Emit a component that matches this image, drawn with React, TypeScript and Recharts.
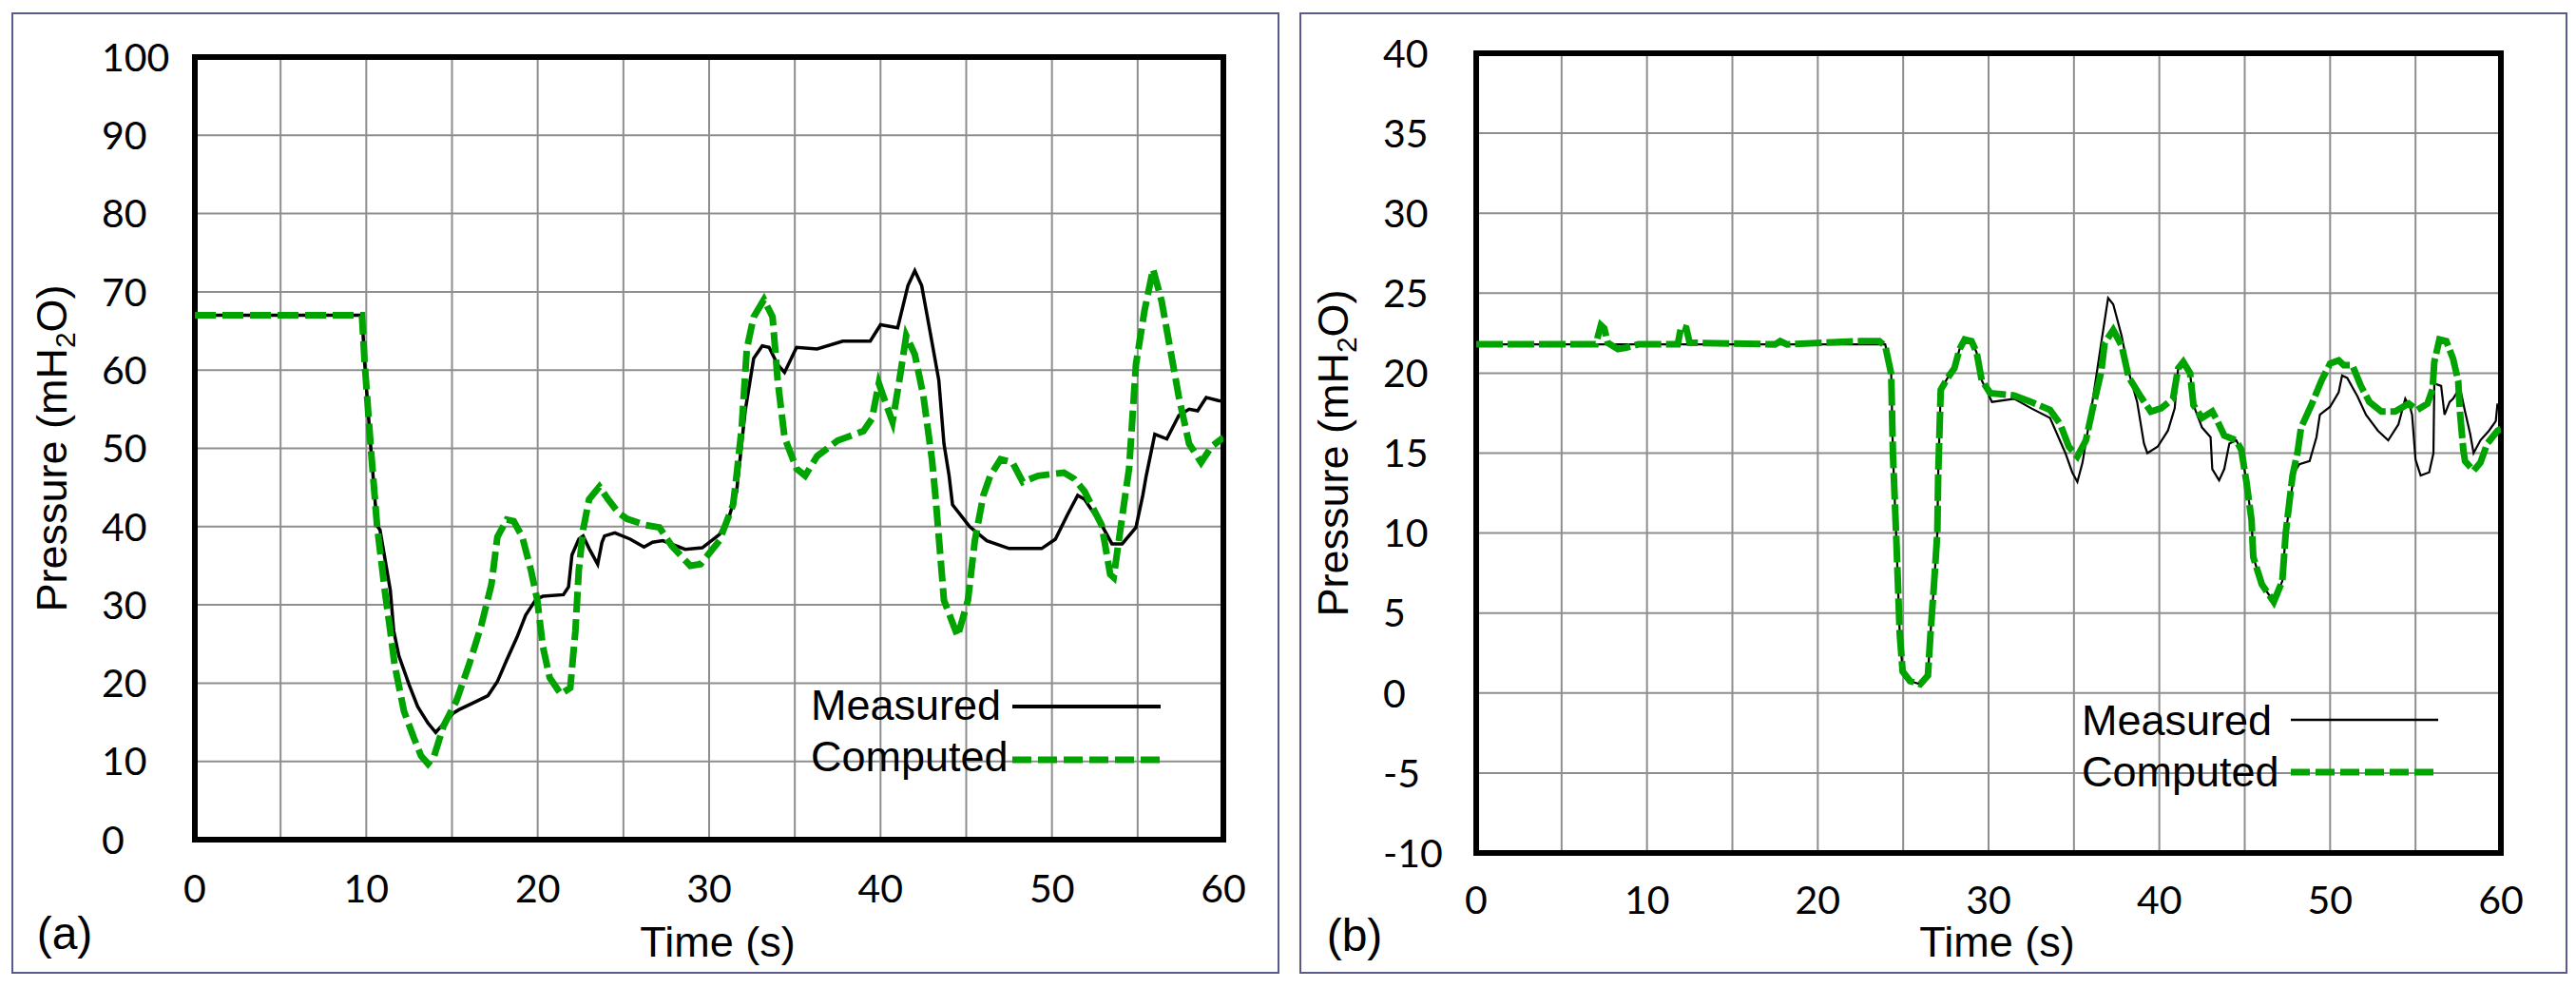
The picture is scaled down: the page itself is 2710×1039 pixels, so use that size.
import React from 'react';
import { LineChart, Line, XAxis, YAxis, CartesianGrid, ReferenceArea, Legend } from 'recharts';

// ---------- axis ticks ----------
const timeTicks = [0, 5, 10, 15, 20, 25, 30, 35, 40, 45, 50, 55, 60];
const timeLabelStep = 10;
const pressureTicksA = [0, 10, 20, 30, 40, 50, 60, 70, 80, 90, 100];
const pressureTicksB = [-10, -5, 0, 5, 10, 15, 20, 25, 30, 35, 40];
const seriesNames = ['Measured', 'Computed'];
const panelLabels = ['(a)', '(b)'];

// ---------- panel (a) data: [time s, pressure mH2O] ----------
const aMeasured: [number, number][] = [
  [0, 67], [9.75, 67], [9.9, 61.1], [10.26, 50.2], [10.63, 40.1], [10.8, 39.6], [11.4, 31.9], [11.6, 26.7],
  [11.9, 23.5], [12.5, 19.8], [13.0, 17.0], [13.6, 14.9], [14.05, 13.7], [14.5, 14.8], [15.1, 16.2], [15.4, 16.6],
  [16.36, 17.6], [17.1, 18.4], [17.65, 20.2], [18.2, 23.0], [18.8, 25.9], [19.3, 28.7], [19.9, 30.7], [20.3, 31.1],
  [21.5, 31.3], [21.8, 32.3], [22.0, 36.4], [22.4, 38.4], [22.65, 38.8], [23.0, 37.2], [23.5, 35.2], [23.75, 38.0],
  [23.9, 38.8], [24.5, 39.2], [25.4, 38.4], [26.2, 37.4], [26.7, 38.0], [27.3, 38.2], [28.6, 37.1], [29.6, 37.3],
  [30.6, 39], [31.2, 41.5], [31.6, 44.4], [32.1, 54.7], [32.6, 61.5], [33.1, 63.1], [33.5, 62.9], [34.0, 60.7],
  [34.4, 59.7], [35.1, 62.9], [36.3, 62.7], [37.8, 63.7], [39.4, 63.7], [40.0, 65.8], [41.0, 65.4], [41.6, 70.8],
  [42.0, 72.7], [42.4, 70.8], [42.9, 64.8], [43.4, 58.7], [43.7, 50.6], [44.0, 46.5], [44.2, 42.8], [45.2, 40],
  [46.2, 38.2], [47.5, 37.2], [49.4, 37.2], [50.2, 38.4], [50.9, 41.5], [51.5, 44], [51.9, 43.5], [52.9, 40.2],
  [53.5, 37.8], [54.1, 37.8], [54.9, 39.9], [55.3, 44], [55.5, 46.5], [56.0, 51.8], [56.7, 51.2], [57.4, 54.2],
  [58.0, 55], [58.5, 54.8], [59.0, 56.5], [59.7, 56.1], [60, 56],
];
const aComputed: [number, number][] = [
  [0, 67], [9.75, 67], [9.9, 61.1], [10.26, 50.2], [10.63, 40.1], [11.1, 31.5], [11.4, 26.7], [11.65, 22.4],
  [12.2, 16.4], [12.76, 13.1], [13.2, 10.7], [13.6, 9.7], [13.96, 10.7], [14.5, 14.5], [15.25, 17.7], [16.0, 22.4],
  [16.7, 27.3], [17.3, 32.6], [17.65, 38.7], [18.2, 40.9], [18.6, 40.7], [19.1, 38.7], [19.6, 34.5], [19.97, 30.7],
  [20.3, 24.7], [20.7, 20.7], [21.35, 18.6], [21.9, 19.4], [22.2, 26.7], [22.4, 34.5], [22.65, 39.6], [23.0, 43.5],
  [23.6, 45.1], [24.1, 43.5], [24.7, 41.8], [25.2, 41.0], [26.3, 40.2], [27.1, 39.9], [27.8, 37.6], [28.9, 35],
  [29.5, 35.2], [30.6, 38.2], [31.4, 42.8], [31.6, 46.5], [31.9, 52.6], [32.2, 62.7], [32.6, 66.8], [33.2, 69],
  [33.7, 66.8], [34.0, 58.7], [34.4, 51.4], [35.1, 47.4], [35.6, 46.5], [36.3, 49], [37.5, 51], [39.0, 52.2],
  [39.5, 53.8], [39.9, 58.3], [40.3, 55.8], [40.7, 53.4], [41.1, 58.7], [41.5, 64.4], [42.0, 62], [42.5, 56.7],
  [43.0, 48.6], [43.2, 44], [43.5, 36], [43.7, 30.6], [44.5, 26], [45.1, 30.6], [45.5, 38.2], [46.0, 44],
  [46.4, 46.5], [47.0, 48.6], [47.7, 48.2], [48.3, 45.7], [49.2, 46.5], [50.7, 46.9], [51.3, 46.1], [51.9, 44.5],
  [52.9, 40.2], [53.4, 33.9], [53.6, 33.5], [53.9, 38.2], [54.3, 44.4], [54.5, 47.4], [54.9, 60.7], [55.4, 67.6],
  [55.9, 72.9], [56.4, 68.8], [56.9, 62.7], [57.4, 56.6], [58.0, 50.6], [58.7, 48.2], [59.3, 50.2], [60, 51.4],
];

// ---------- panel (b) data ----------
const bMeasured: [number, number][] = [
  [0, 21.8], [23.95, 21.8], [24.3, 19.96], [24.4, 15.0], [24.6, 9.6], [24.8, 3.7], [24.97, 1.35], [25.4, 0.75],
  [26.0, 0.55], [26.45, 1.1], [26.6, 3.7], [26.8, 6.7], [27.0, 10.0], [27.05, 13.6], [27.2, 18.95], [27.6, 19.7],
  [28.0, 20.3], [28.3, 21.5], [28.6, 22.1], [29.0, 22.0], [29.3, 21.3], [29.6, 19.55], [30.2, 18.2], [31.5, 18.4],
  [32.5, 17.8], [33.6, 17.2], [34.5, 15.0], [34.9, 13.8], [35.2, 13.2], [35.5, 14.4], [36.0, 17.6], [36.6, 21.9],
  [37.0, 24.7], [37.3, 24.3], [37.8, 22.3], [38.2, 20.1], [38.7, 18.2], [39.1, 15.6], [39.3, 15.0], [39.9, 15.4],
  [40.5, 16.4], [40.9, 17.8], [41.1, 20.3], [41.4, 20.7], [41.8, 20.0], [42.0, 18.0], [42.5, 16.6], [43.0, 16.0],
  [43.1, 14.0], [43.5, 13.3], [43.8, 14.0], [44.1, 15.6], [44.5, 15.8], [44.8, 15.2], [45.1, 13.2], [45.4, 10.8],
  [45.5, 8.5], [46.0, 6.8], [46.7, 5.7], [47.2, 7.0], [47.4, 10.0], [47.9, 13.8], [48.2, 14.3], [48.8, 14.5],
  [49.2, 16.0], [49.4, 17.4], [50.0, 17.9], [50.5, 18.8], [50.7, 19.85], [51.0, 19.7], [51.6, 18.55], [52.1, 17.4],
  [52.8, 16.4], [53.4, 15.8], [54.0, 16.8], [54.4, 18.4], [54.7, 17.8], [54.8, 17.4], [55.0, 14.6], [55.3, 13.6],
  [55.8, 13.8], [56.05, 15.0], [56.1, 19.35], [56.5, 19.2], [56.7, 17.4], [57.0, 18.2], [57.2, 18.4], [57.6, 19.1],
  [57.9, 17.6], [58.2, 16.2], [58.4, 15.0], [58.8, 15.8], [59.3, 16.4], [59.7, 17.0], [59.8, 18.1],
];
const bComputed: [number, number][] = [
  [0, 21.8], [7.0, 21.8], [7.3, 23.0], [7.5, 22.8], [7.7, 21.9], [8.3, 21.5], [8.8, 21.6], [9.5, 21.8],
  [11.8, 21.8], [12.0, 22.9], [12.3, 22.8], [12.5, 21.9], [17.5, 21.8], [17.8, 22.0], [18.2, 21.8], [22.5, 22.0],
  [23.6, 22.0], [23.95, 21.7], [24.3, 19.96], [24.4, 15.0], [24.6, 9.6], [24.8, 3.7], [24.97, 1.35], [25.4, 0.75],
  [26.0, 0.55], [26.45, 1.1], [26.6, 3.7], [26.8, 6.7], [27.0, 10.0], [27.05, 13.6], [27.2, 18.95], [27.6, 19.7],
  [28.0, 20.3], [28.3, 21.5], [28.6, 22.1], [29.0, 22.0], [29.3, 21.3], [29.6, 19.55], [30.1, 18.75], [31.5, 18.6],
  [32.5, 18.2], [33.6, 17.7], [34.2, 16.8], [34.7, 15.4], [35.2, 14.8], [35.7, 15.8], [36.1, 17.8], [36.6, 20.1],
  [36.8, 21.9], [37.3, 22.7], [37.8, 21.7], [38.2, 19.75], [38.9, 18.55], [39.5, 17.6], [40.1, 17.8], [40.8, 18.4],
  [41.1, 20.3], [41.4, 20.7], [41.8, 20.0], [42.0, 18.0], [42.5, 17.2], [43.1, 17.6], [43.4, 17.0], [43.8, 16.1],
  [44.5, 15.8], [44.8, 15.2], [45.1, 13.2], [45.4, 10.8], [45.5, 8.5], [46.0, 6.8], [46.7, 5.7], [47.2, 7.0],
  [47.4, 10.0], [47.8, 13.6], [48.1, 15.1], [48.3, 16.6], [48.9, 18.0], [49.5, 19.55], [50.0, 20.6], [50.5, 20.8],
  [50.8, 20.5], [51.3, 20.5], [51.8, 19.2], [52.3, 18.2], [53.0, 17.6], [53.8, 17.6], [54.6, 18.1], [55.1, 17.7],
  [55.7, 18.1], [56.0, 19.0], [56.1, 20.7], [56.4, 22.1], [56.8, 22.0], [57.2, 20.9], [57.5, 19.5], [57.6, 17.6],
  [57.8, 15.2], [57.9, 14.5], [58.4, 13.9], [58.8, 14.4], [59.2, 15.6], [59.8, 16.4], [60, 16.5],
];

const toRows = (pairs: [number, number][]) => pairs.map(([t, p]) => ({ t, p }));

const GREEN = '#00a300';
const SANS = '"Liberation Sans", Arial, sans-serif';
const NUM = 'Lato, "Open Sans", sans-serif';

type PanelCfg = {
  left: number;
  width: number;
  margin: { top: number; right: number; bottom: number; left: number };
  yDomain: [number, number];
  yTicks: number[];
  measured: [number, number][];
  computed: [number, number][];
  measuredWidth: number;
  dash: string;
  legendDash: string;
  xTickOffset: number;
  xTitleOffset: number;
  legendLeft: number;
  legendTop: number;
  legendRows: { base: number; line: number }[];
  legendLineX: [number, number];
  legendMeasuredWidth: number;
};

const XTick = (props: any) => {
  const { x, y, payload, offsetY } = props;
  if (payload.value % timeLabelStep !== 0) return <g />;
  return (
    <text x={x} y={y + offsetY} textAnchor="middle" fontFamily={NUM} fontSize={41} fill="#000">
      {payload.value}
    </text>
  );
};

const YTick = (props: any) => {
  const { x, y, payload } = props;
  return (
    <text x={x - 98} y={y} dy="0.36em" textAnchor="start" fontFamily={NUM} fontSize={41} fill="#000">
      {payload.value}
    </text>
  );
};

const PressureTitle = (props: any) => {
  const vb = props.viewBox || {};
  const bx = vb.x + vb.width - 135;
  const cy = vb.y + vb.height / 2;
  return (
    <text
      transform={`rotate(-90 ${bx} ${cy})`}
      x={bx}
      y={cy}
      textAnchor="middle"
      fontFamily={SANS}
      fontSize={45}
      fill="#000"
    >
      Pressure (mH
      <tspan fontSize={30} dy={9}>2</tspan>
      <tspan dy={-9}>O)</tspan>
    </text>
  );
};

const TimeTitle = (props: any) => {
  const vb = props.viewBox || {};
  return (
    <text
      x={vb.x + vb.width / 2 + 9}
      y={vb.y + props.offsetY}
      textAnchor="middle"
      fontFamily={SANS}
      fontSize={45}
      fill="#000"
    >
      Time (s)
    </text>
  );
};

const LegendBox = (props: any) => {
  const { payload, cfg } = props as { payload: any[]; cfg: PanelCfg };
  const items = (payload || []).filter((p: any) => seriesNames.includes(p.value));
  return (
    <svg width={420} height={150} style={{ overflow: 'visible' }}>
      {items.map((it: any) => {
        const idx = seriesNames.indexOf(it.value);
        const row = cfg.legendRows[idx];
        const isComputed = idx === 1;
        return (
          <g key={it.value}>
            <text x={0} y={row.base} fontFamily={SANS} fontSize={45} fill="#000">
              {it.value}
            </text>
            <line
              x1={cfg.legendLineX[0]}
              x2={cfg.legendLineX[1]}
              y1={row.line}
              y2={row.line}
              stroke={isComputed ? GREEN : '#000'}
              strokeWidth={isComputed ? 7 : cfg.legendMeasuredWidth}
              strokeDasharray={isComputed ? cfg.legendDash : undefined}
            />
          </g>
        );
      })}
    </svg>
  );
};

const Panel = ({ cfg }: { cfg: PanelCfg }) => {
  return (
    <div style={{ position: 'absolute', left: cfg.left, top: 0 }}>
      <LineChart width={cfg.width} height={1039} margin={cfg.margin}>
        <CartesianGrid stroke="#8e8e8e" strokeWidth={2} />
        <XAxis
          dataKey="t"
          type="number"
          domain={[0, 60]}
          ticks={timeTicks}
          interval={0}
          tickLine={false}
          axisLine={false}
          tickSize={0}
          tickMargin={0}
          height={60}
          tick={<XTick offsetY={cfg.xTickOffset} />}
          label={<TimeTitle offsetY={cfg.xTitleOffset} />}
          allowDataOverflow
        />
        <YAxis
          type="number"
          domain={cfg.yDomain}
          ticks={cfg.yTicks}
          interval={0}
          tickLine={false}
          axisLine={false}
          tickSize={0}
          tickMargin={0}
          width={100}
          tick={<YTick />}
          label={<PressureTitle />}
          allowDataOverflow
        />
        <Line
          data={toRows(cfg.measured)}
          dataKey="p"
          name={seriesNames[0]}
          type="linear"
          stroke="#000"
          strokeWidth={cfg.measuredWidth}
          dot={false}
          activeDot={false}
          isAnimationActive={false}
        />
        <Line
          data={toRows(cfg.computed)}
          dataKey="p"
          name={seriesNames[1]}
          type="linear"
          stroke={GREEN}
          strokeWidth={7}
          strokeDasharray={cfg.dash}
          dot={false}
          activeDot={false}
          isAnimationActive={false}
        />
        <ReferenceArea
          x1={0}
          x2={60}
          y1={cfg.yDomain[0]}
          y2={cfg.yDomain[1]}
          fill="none"
          fillOpacity={0}
          stroke="#000"
          strokeWidth={6}
          ifOverflow="visible"
        />
        <Legend
          layout="horizontal"
          verticalAlign="middle"
          align="center"
          content={(p: any) => <LegendBox {...p} cfg={cfg} />}
          wrapperStyle={{ position: 'absolute', left: cfg.legendLeft, top: cfg.legendTop, width: 420, height: 150, bottom: 'auto', right: 'auto' }}
        />
      </LineChart>
    </div>
  );
};

const panelA: PanelCfg = {
  left: 0,
  width: 1360,
  margin: { top: 60, right: 73, bottom: 96, left: 105 },
  yDomain: [0, 100],
  yTicks: pressureTicksA,
  measured: aMeasured,
  computed: aComputed,
  measuredWidth: 3.5,
  dash: '22 7',
  legendDash: '20 7',
  xTickOffset: 66,
  xTitleOffset: 123,
  legendLeft: 853,
  legendTop: 700,
  legendRows: [{ base: 57, line: 43 }, { base: 111, line: 99 }],
  legendLineX: [212, 368],
  legendMeasuredWidth: 4,
};

const panelB: PanelCfg = {
  left: 1360,
  width: 1350,
  margin: { top: 56, right: 79, bottom: 82, left: 93 },
  yDomain: [-10, 40],
  yTicks: pressureTicksB,
  measured: bMeasured,
  computed: bComputed,
  measuredWidth: 2.2,
  dash: '28 5',
  legendDash: '20 6',
  xTickOffset: 64,
  xTitleOffset: 109,
  legendLeft: 830,
  legendTop: 700,
  legendRows: [{ base: 73, line: 57 }, { base: 127, line: 112 }],
  legendLineX: [220, 375],
  legendMeasuredWidth: 2.5,
};

export default function App() {
  return (
    <div style={{ position: 'absolute', left: 0, top: 0, width: 2710, height: 1039, background: '#fff', overflow: 'hidden' }}>
      <div style={{ position: 'absolute', left: 12, top: 13, width: 1334, height: 1011, border: '2px solid #5a5a8c', boxSizing: 'border-box' }} />
      <div style={{ position: 'absolute', left: 1367, top: 13, width: 1334, height: 1011, border: '2px solid #5a5a8c', boxSizing: 'border-box' }} />
      <Panel cfg={panelA} />
      <Panel cfg={panelB} />
      <svg width={2710} height={1039} style={{ position: 'absolute', left: 0, top: 0, pointerEvents: 'none' }}>
        <text x={68} y={998} textAnchor="middle" fontFamily={SANS} fontSize={48} fill="#000">{panelLabels[0]}</text>
        <text x={1425} y={1000} textAnchor="middle" fontFamily={SANS} fontSize={48} fill="#000">{panelLabels[1]}</text>
      </svg>
    </div>
  );
}
